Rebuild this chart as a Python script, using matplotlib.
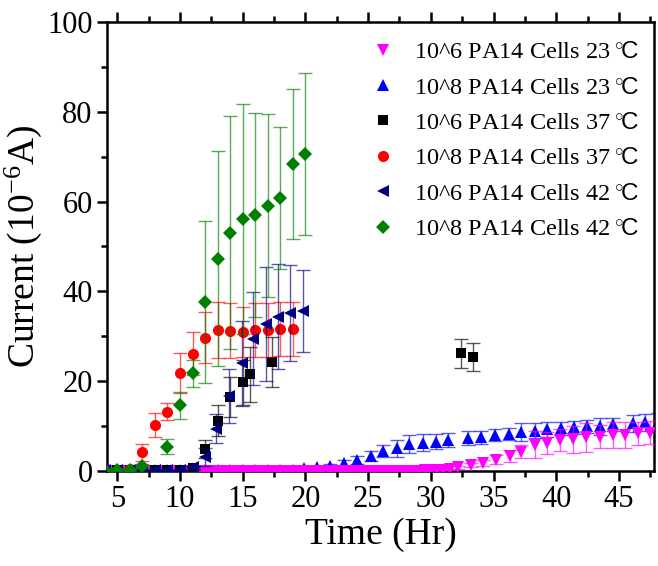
import numpy as np
import matplotlib.pyplot as plt
from matplotlib.lines import Line2D
from matplotlib.ticker import MultipleLocator

plt.rcParams['font.family'] = ['Liberation Serif', 'DejaVu Serif']
plt.rcParams['mathtext.fontset'] = 'custom'
plt.rcParams['mathtext.rm'] = 'Liberation Serif'
plt.rcParams['mathtext.sf'] = 'Liberation Sans'
plt.rcParams['mathtext.it'] = 'Liberation Serif:italic'

# 10^6 cells, 23 C : flat baseline readings every half hour, then the rise
mag_t_flat = np.arange(4.5, 32.0, 0.5)
mag_i_flat = [0.0, 0.0, 0.0, 0.0, 0.0, 0.0, 0.0, 0.0, 0.0, 0.0,
              0.0, 0.0, 0.0, 0.0, 0.0, 0.0, 0.0, 0.0, 0.0, 0.0,
              0.0, 0.0, 0.0, 0.0, 0.0, 0.0, 0.0, 0.0, 0.0, 0.0,
              0.0, 0.0, 0.0, 0.0, 0.0, 0.0, 0.0, 0.0, 0.0, 0.0,
              0.0, 0.0, 0.0, 0.0, 0.0, 0.0, 0.0, 0.0, 0.0, 0.0,
              0.1, 0.1, 0.2, 0.3, 0.4]
mag_e_flat = [0.1] * len(mag_i_flat)
mag_t_rise = [32.2, 33.2, 34.2, 35.2, 36.3, 37.2, 38.3, 39.3, 40.3, 41.3,
              42.4, 43.5, 44.5, 45.5, 46.5, 47.5]
mag_i_rise = [0.8, 1.3, 1.7, 2.5, 3.3, 4.3, 5.8, 6.2, 6.9, 7.1,
              7.5, 7.6, 8.0, 8.0, 8.4, 8.5]
mag_e_rise = [0.3, 0.5, 0.7, 1.0, 1.3, 1.5, 3.0, 2.5, 2.4, 3.0,
              3.2, 2.6, 3.0, 3.0, 2.6, 2.6]

# 10^8 cells, 23 C
blue_t = [4, 5, 6, 7, 8, 9, 10, 11, 12, 13, 14, 15, 16, 17, 18, 19,
          19.9, 20.9, 22.0, 23.1, 24.1, 25.2, 26.2, 27.3, 28.3, 29.35,
          30.4, 31.4, 33.0, 34.0, 35.1, 36.2, 37.2, 38.3, 39.3, 40.4,
          41.4, 42.45, 43.5, 44.5, 46.1, 47.1, 48.1]
blue_i = [0.2, 0.2, 0.2, 0.2, 0.2, 0.2, 0.2, 0.2, 0.2, 0.2, 0.2, 0.2, 0.2, 0.2, 0.2, 0.2,
          0.6, 0.8, 1.1, 1.7, 2.5, 3.3, 4.5, 5.0, 6.0, 6.3,
          6.5, 6.9, 7.3, 7.5, 8.0, 8.2, 8.6, 9.0, 9.3, 9.5,
          9.7, 9.9, 10.0, 10.4, 10.6, 10.8, 11.0]
blue_e = [0.2, 0.2, 0.2, 0.2, 0.2, 0.2, 0.2, 0.2, 0.2, 0.2, 0.2, 0.2, 0.2, 0.2, 0.2, 0.2,
          0.3, 0.4, 0.5, 0.7, 0.9, 1.1, 1.3, 1.9, 1.9, 1.9,
          1.7, 1.5, 1.5, 1.5, 1.3, 1.3, 2.0, 1.6, 1.7, 1.5,
          1.5, 1.5, 1.9, 1.5, 1.9, 1.9, 1.9]

# 10^6 cells, 37 C
blk_t = [4, 5, 6, 7, 8, 9, 10, 11, 12, 13, 14, 15, 15.6, 17.3, 32.4, 33.4]
blk_i = [0.1, 0.1, 0.1, 0.1, 0.1, 0.1, 0.1, 0.6, 4.9, 11.2, 16.5, 19.7, 21.5, 24.3, 26.2, 25.3]
blk_e = [0.2, 0.2, 0.2, 0.2, 0.2, 0.2, 0.2, 0.3, 2.0, 3.5, 4.5, 5.0, 6.2, 5.5, 3.3, 3.1]

# 10^8 cells, 37 C
red_t = [4, 5, 6, 7, 8, 9, 10, 11, 12, 13, 14, 15, 16, 17, 18, 19]
red_i = [0.1, 0.2, 0.5, 4.2, 10.2, 13.2, 21.8, 26.1, 29.7, 31.4, 31.2, 31.0, 31.4, 31.4, 31.7, 31.7]
red_e = [0.2, 0.2, 0.5, 1.9, 2.6, 1.9, 4.5, 4.8, 5.6, 6.3, 6.1, 5.6, 6.0, 6.0, 6.0, 6.0]

# 10^6 cells, 42 C
navy_t = [4, 5, 6, 7, 8, 9, 10, 11, 12, 12.9, 13.93, 14.92, 15.85, 16.87, 17.85, 18.79, 19.78]
navy_i = [0.1, 0.1, 0.1, 0.1, 0.1, 0.1, 0.1, 0.8, 3.0, 9.4, 16.7, 24.0, 29.5, 32.7, 34.4, 35.1, 35.6]
navy_e = [0.2, 0.2, 0.2, 0.2, 0.2, 0.2, 0.2, 0.3, 2.0, 3.2, 6.0, 9.5, 10.4, 12.7, 11.6, 10.7, 9.2]

# 10^8 cells, 42 C
grn_t = [4, 5, 6, 7, 9, 10, 11, 12, 13, 14, 15, 16, 17, 18, 19, 20]
grn_i = [0.1, 0.2, 0.3, 1.1, 5.4, 14.6, 21.8, 37.6, 47.3, 53.1, 56.1, 57.0, 59.1, 60.8, 68.3, 70.6]
grn_e = [0.2, 0.2, 0.3, 0.5, 1.6, 3.0, 3.0, 18.0, 24.0, 26.0, 25.6, 22.7, 20.4, 15.9, 16.7, 18.0]

deg = r'$\;^{\circ}\!\mathsf{C}$'
labels = ['10^6 PA14 Cells 23' + deg, '10^8 PA14 Cells 23' + deg,
          '10^6 PA14 Cells 37' + deg, '10^8 PA14 Cells 37' + deg,
          '10^6 PA14 Cells 42' + deg, '10^8 PA14 Cells 42' + deg]

fig = plt.figure(figsize=(6.58, 5.66), dpi=100)
ax = fig.add_axes([0.163, 0.168, 0.831, 0.793])


def draw(t, i, e, color, marker, ms, z):
    ax.errorbar(t, i, yerr=e, fmt='none', ecolor=color, elinewidth=1.0,
                capsize=5, capthick=1.0, alpha=0.65, zorder=z)
    ax.plot(t, i, linestyle='none', marker=marker, color=color, ms=ms,
            markeredgewidth=0, zorder=z + 0.5)


draw(blue_t, blue_i, blue_e, '#0000ff', '^', 9, 2)
draw(mag_t_flat, mag_i_flat, mag_e_flat, '#ff00ff', 'v', 8, 3)
draw(mag_t_rise, mag_i_rise, mag_e_rise, '#ff00ff', 'v', 9, 3)
draw(blk_t, blk_i, blk_e, '#000000', 's', 6.5, 4)
draw(red_t, red_i, red_e, '#ff0000', 'o', 8, 5)
draw(navy_t, navy_i, navy_e, '#000080', '<', 8.5, 6)
draw(grn_t, grn_i, grn_e, '#008000', 'D', 7, 7)

ax.set_xlim(4.2, 47.8)
ax.set_ylim(0, 100)
ax.xaxis.set_major_locator(MultipleLocator(5))
ax.xaxis.set_minor_locator(MultipleLocator(2.5))
ax.yaxis.set_major_locator(MultipleLocator(20))
ax.yaxis.set_minor_locator(MultipleLocator(10))
ax.tick_params(which='both', direction='out', top=True, right=False,
               labelsize=22, width=1.8)
ax.tick_params(which='major', length=7)
ax.tick_params(which='minor', length=4)
for side in ax.spines.values():
    side.set_linewidth(1.8)

ax.set_xlabel('Time (Hr)', fontsize=27, labelpad=2)
ax.set_ylabel('Current (10$^{-6}$A)', fontsize=27, labelpad=2)

handles = [Line2D([], [], linestyle='none', marker=m, color=c, ms=s, markeredgewidth=0)
           for m, c, s in [('v', '#ff00ff', 9), ('^', '#0000ff', 9), ('s', '#000000', 6.5),
                           ('o', '#ff0000', 8), ('<', '#000080', 8.5), ('D', '#008000', 7)]]
ax.legend(handles, labels, loc='upper right', bbox_to_anchor=(1.0, 0.99), frameon=False,
          fontsize=17.5, handlelength=1.0, handletextpad=0.8, labelspacing=0.55,
          borderaxespad=0.2)

fig.savefig('out.png', dpi=100)
